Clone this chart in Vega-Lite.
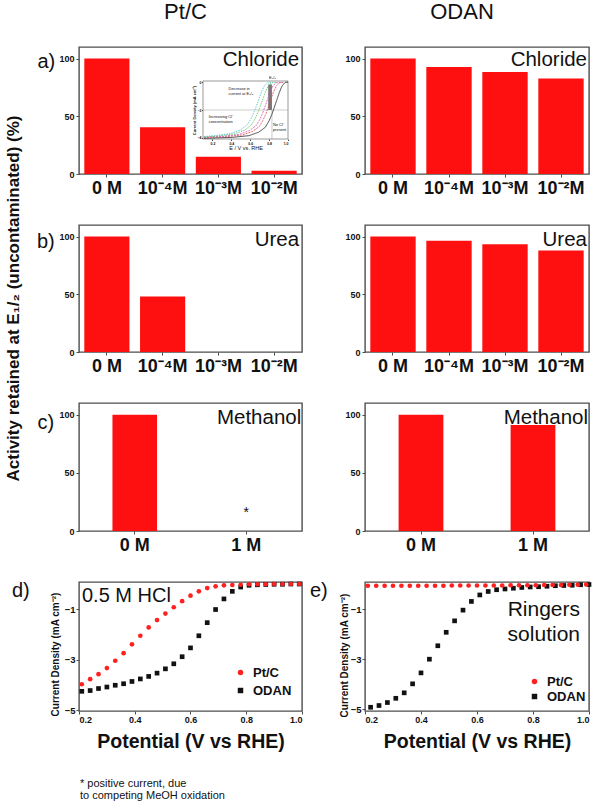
{
 "$schema": "https://vega.github.io/schema/vega-lite/v6.json",
 "background": "white",
 "padding": {"left": 3, "top": 0, "right": 0, "bottom": 0},
 "autosize": {"type": "pad"},
 "title": {"text": ["* positive current, due", "to competing MeOH oxidation"], "orient": "bottom", "anchor": "start", "frame": "group", "fontSize": 11, "fontWeight": "normal", "baseline": "alphabetic", "lineHeight": 12, "offset": 36, "dx": 1},
 "columns": 2,
 "spacing": {"row": 51, "column": 63},
 "bounds": "flush",
 "resolve": {"scale": {"color": "independent", "shape": "independent"}, "legend": {"color": "independent", "shape": "independent"}},
 "datasets": {
  "chlorPt": [{"conc": "0 M", "pct": 100}, {"conc": "10⁻⁴M", "pct": 40.5}, {"conc": "10⁻³M", "pct": 15}, {"conc": "10⁻²M", "pct": 2.8}],
  "chlorOD": [{"conc": "0 M", "pct": 100}, {"conc": "10⁻⁴M", "pct": 92.7}, {"conc": "10⁻³M", "pct": 88.4}, {"conc": "10⁻²M", "pct": 82.7}],
  "ureaPt": [{"conc": "0 M", "pct": 100}, {"conc": "10⁻⁴M", "pct": 48}, {"conc": "10⁻³M", "pct": 0}, {"conc": "10⁻²M", "pct": 0}],
  "ureaOD": [{"conc": "0 M", "pct": 100}, {"conc": "10⁻⁴M", "pct": 96.3}, {"conc": "10⁻³M", "pct": 93.4}, {"conc": "10⁻²M", "pct": 87.9}],
  "methPt": [{"conc": "0 M", "pct": 100}, {"conc": "1 M", "pct": 0}],
  "methOD": [{"conc": "0 M", "pct": 100}, {"conc": "1 M", "pct": 91}],
  "inset": [
   {"series": "no", "E": 0.11, "j": -4.05}, {"series": "no", "E": 0.41, "j": -3.98}, {"series": "no", "E": 0.585, "j": -3.86}, {"series": "no", "E": 0.69, "j": -3.61}, {"series": "no", "E": 0.76, "j": -3.25}, {"series": "no", "E": 0.8, "j": -2.78}, {"series": "no", "E": 0.83, "j": -2.3}, {"series": "no", "E": 0.855, "j": -1.81}, {"series": "no", "E": 0.884, "j": -1.22}, {"series": "no", "E": 0.908, "j": -0.73}, {"series": "no", "E": 0.937, "j": -0.26}, {"series": "no", "E": 0.97, "j": 0.0}, {"series": "no", "E": 1.0, "j": 0.02},
   {"series": "c1", "E": 0.11, "j": -4.0}, {"series": "c1", "E": 0.35, "j": -3.93}, {"series": "c1", "E": 0.52, "j": -3.8}, {"series": "c1", "E": 0.625, "j": -3.55}, {"series": "c1", "E": 0.695, "j": -3.2}, {"series": "c1", "E": 0.735, "j": -2.75}, {"series": "c1", "E": 0.765, "j": -2.3}, {"series": "c1", "E": 0.79, "j": -1.8}, {"series": "c1", "E": 0.82, "j": -1.2}, {"series": "c1", "E": 0.845, "j": -0.72}, {"series": "c1", "E": 0.875, "j": -0.28}, {"series": "c1", "E": 0.91, "j": -0.03}, {"series": "c1", "E": 0.96, "j": 0.0},
   {"series": "c2", "E": 0.11, "j": -3.98}, {"series": "c2", "E": 0.31, "j": -3.9}, {"series": "c2", "E": 0.485, "j": -3.76}, {"series": "c2", "E": 0.59, "j": -3.5}, {"series": "c2", "E": 0.66, "j": -3.15}, {"series": "c2", "E": 0.7, "j": -2.7}, {"series": "c2", "E": 0.73, "j": -2.25}, {"series": "c2", "E": 0.755, "j": -1.78}, {"series": "c2", "E": 0.785, "j": -1.2}, {"series": "c2", "E": 0.81, "j": -0.7}, {"series": "c2", "E": 0.84, "j": -0.27}, {"series": "c2", "E": 0.875, "j": -0.03}, {"series": "c2", "E": 0.93, "j": 0.0},
   {"series": "c3", "E": 0.11, "j": -3.95}, {"series": "c3", "E": 0.26, "j": -3.88}, {"series": "c3", "E": 0.435, "j": -3.72}, {"series": "c3", "E": 0.54, "j": -3.46}, {"series": "c3", "E": 0.61, "j": -3.1}, {"series": "c3", "E": 0.65, "j": -2.65}, {"series": "c3", "E": 0.68, "j": -2.2}, {"series": "c3", "E": 0.705, "j": -1.75}, {"series": "c3", "E": 0.735, "j": -1.18}, {"series": "c3", "E": 0.76, "j": -0.7}, {"series": "c3", "E": 0.79, "j": -0.26}, {"series": "c3", "E": 0.825, "j": -0.03}, {"series": "c3", "E": 0.88, "j": 0.0},
   {"series": "c4", "E": 0.11, "j": -3.92}, {"series": "c4", "E": 0.22, "j": -3.86}, {"series": "c4", "E": 0.395, "j": -3.7}, {"series": "c4", "E": 0.5, "j": -3.43}, {"series": "c4", "E": 0.57, "j": -3.06}, {"series": "c4", "E": 0.61, "j": -2.6}, {"series": "c4", "E": 0.64, "j": -2.15}, {"series": "c4", "E": 0.665, "j": -1.72}, {"series": "c4", "E": 0.695, "j": -1.15}, {"series": "c4", "E": 0.72, "j": -0.68}, {"series": "c4", "E": 0.75, "j": -0.25}, {"series": "c4", "E": 0.785, "j": -0.03}, {"series": "c4", "E": 0.84, "j": 0.0}
  ],
  "hcl": [
   {"material": "ODAN", "E": 0.21, "j": -4.25}, {"material": "ODAN", "E": 0.24, "j": -4.22}, {"material": "ODAN", "E": 0.27, "j": -4.14}, {"material": "ODAN", "E": 0.3, "j": -4.08}, {"material": "ODAN", "E": 0.33, "j": -4.01}, {"material": "ODAN", "E": 0.36, "j": -3.95}, {"material": "ODAN", "E": 0.39, "j": -3.86}, {"material": "ODAN", "E": 0.42, "j": -3.76}, {"material": "ODAN", "E": 0.45, "j": -3.66}, {"material": "ODAN", "E": 0.48, "j": -3.53}, {"material": "ODAN", "E": 0.51, "j": -3.36}, {"material": "ODAN", "E": 0.54, "j": -3.16}, {"material": "ODAN", "E": 0.57, "j": -2.88}, {"material": "ODAN", "E": 0.6, "j": -2.53}, {"material": "ODAN", "E": 0.63, "j": -2.05}, {"material": "ODAN", "E": 0.66, "j": -1.53}, {"material": "ODAN", "E": 0.69, "j": -1.01}, {"material": "ODAN", "E": 0.72, "j": -0.59}, {"material": "ODAN", "E": 0.75, "j": -0.29}, {"material": "ODAN", "E": 0.78, "j": -0.12}, {"material": "ODAN", "E": 0.81, "j": -0.05}, {"material": "ODAN", "E": 0.84, "j": -0.03}, {"material": "ODAN", "E": 0.87, "j": -0.02}, {"material": "ODAN", "E": 0.9, "j": -0.01}, {"material": "ODAN", "E": 0.93, "j": -0.01}, {"material": "ODAN", "E": 0.96, "j": 0}, {"material": "ODAN", "E": 0.99, "j": 0},
   {"material": "Pt/C", "E": 0.21, "j": -3.97}, {"material": "Pt/C", "E": 0.24, "j": -3.77}, {"material": "Pt/C", "E": 0.27, "j": -3.57}, {"material": "Pt/C", "E": 0.3, "j": -3.33}, {"material": "Pt/C", "E": 0.33, "j": -3.04}, {"material": "Pt/C", "E": 0.36, "j": -2.74}, {"material": "Pt/C", "E": 0.39, "j": -2.39}, {"material": "Pt/C", "E": 0.42, "j": -2.05}, {"material": "Pt/C", "E": 0.45, "j": -1.72}, {"material": "Pt/C", "E": 0.48, "j": -1.43}, {"material": "Pt/C", "E": 0.51, "j": -1.17}, {"material": "Pt/C", "E": 0.54, "j": -0.92}, {"material": "Pt/C", "E": 0.57, "j": -0.68}, {"material": "Pt/C", "E": 0.6, "j": -0.46}, {"material": "Pt/C", "E": 0.63, "j": -0.29}, {"material": "Pt/C", "E": 0.66, "j": -0.16}, {"material": "Pt/C", "E": 0.69, "j": -0.09}, {"material": "Pt/C", "E": 0.72, "j": -0.05}, {"material": "Pt/C", "E": 0.75, "j": -0.04}, {"material": "Pt/C", "E": 0.78, "j": -0.03}, {"material": "Pt/C", "E": 0.81, "j": -0.01}, {"material": "Pt/C", "E": 0.84, "j": -0.01}, {"material": "Pt/C", "E": 0.87, "j": -0.01}, {"material": "Pt/C", "E": 0.9, "j": 0}, {"material": "Pt/C", "E": 0.93, "j": 0}, {"material": "Pt/C", "E": 0.96, "j": 0}, {"material": "Pt/C", "E": 0.99, "j": 0}
  ],
  "ringer": [
   {"material": "ODAN", "E": 0.22, "j": -4.93}, {"material": "ODAN", "E": 0.25, "j": -4.86}, {"material": "ODAN", "E": 0.28, "j": -4.74}, {"material": "ODAN", "E": 0.31, "j": -4.57}, {"material": "ODAN", "E": 0.34, "j": -4.35}, {"material": "ODAN", "E": 0.37, "j": -3.99}, {"material": "ODAN", "E": 0.4, "j": -3.55}, {"material": "ODAN", "E": 0.43, "j": -3.0}, {"material": "ODAN", "E": 0.46, "j": -2.46}, {"material": "ODAN", "E": 0.49, "j": -1.92}, {"material": "ODAN", "E": 0.52, "j": -1.46}, {"material": "ODAN", "E": 0.55, "j": -1.03}, {"material": "ODAN", "E": 0.58, "j": -0.68}, {"material": "ODAN", "E": 0.61, "j": -0.42}, {"material": "ODAN", "E": 0.64, "j": -0.28}, {"material": "ODAN", "E": 0.67, "j": -0.21}, {"material": "ODAN", "E": 0.7, "j": -0.18}, {"material": "ODAN", "E": 0.73, "j": -0.15}, {"material": "ODAN", "E": 0.76, "j": -0.12}, {"material": "ODAN", "E": 0.79, "j": -0.1}, {"material": "ODAN", "E": 0.82, "j": -0.09}, {"material": "ODAN", "E": 0.85, "j": -0.07}, {"material": "ODAN", "E": 0.88, "j": -0.05}, {"material": "ODAN", "E": 0.91, "j": -0.04}, {"material": "ODAN", "E": 0.94, "j": -0.03}, {"material": "ODAN", "E": 0.97, "j": -0.01}, {"material": "ODAN", "E": 1.0, "j": 0},
   {"material": "Pt/C", "E": 0.21, "j": -0.05}, {"material": "Pt/C", "E": 0.24, "j": -0.05}, {"material": "Pt/C", "E": 0.27, "j": -0.05}, {"material": "Pt/C", "E": 0.3, "j": -0.05}, {"material": "Pt/C", "E": 0.33, "j": -0.05}, {"material": "Pt/C", "E": 0.36, "j": -0.05}, {"material": "Pt/C", "E": 0.39, "j": -0.05}, {"material": "Pt/C", "E": 0.42, "j": -0.05}, {"material": "Pt/C", "E": 0.45, "j": -0.05}, {"material": "Pt/C", "E": 0.48, "j": -0.05}, {"material": "Pt/C", "E": 0.51, "j": -0.04}, {"material": "Pt/C", "E": 0.54, "j": -0.04}, {"material": "Pt/C", "E": 0.57, "j": -0.04}, {"material": "Pt/C", "E": 0.6, "j": -0.04}, {"material": "Pt/C", "E": 0.63, "j": -0.04}, {"material": "Pt/C", "E": 0.66, "j": -0.04}, {"material": "Pt/C", "E": 0.69, "j": -0.04}, {"material": "Pt/C", "E": 0.72, "j": -0.03}, {"material": "Pt/C", "E": 0.75, "j": -0.03}, {"material": "Pt/C", "E": 0.78, "j": -0.03}, {"material": "Pt/C", "E": 0.81, "j": -0.03}, {"material": "Pt/C", "E": 0.84, "j": -0.02}, {"material": "Pt/C", "E": 0.87, "j": -0.02}, {"material": "Pt/C", "E": 0.9, "j": -0.02}, {"material": "Pt/C", "E": 0.93, "j": -0.01}, {"material": "Pt/C", "E": 0.96, "j": -0.01}, {"material": "Pt/C", "E": 0.99, "j": 0}
  ]
 },
 "concat": [
  {
   "width": 223, "height": 127,
   "title": {"text": "Pt/C", "orient": "top", "anchor": "middle", "frame": "group", "fontSize": 22, "fontWeight": "normal", "baseline": "alphabetic", "offset": 6, "dx": -5},
   "layer": [
    {"layer": [
     {"data": {"name": "chlorPt"}, "mark": {"type": "bar", "color": "#ff1010"},
      "encoding": {
       "x": {"field": "conc", "type": "nominal", "sort": null, "scale": {"domain": ["0 M", "10⁻⁴M", "10⁻³M", "10⁻²M"], "paddingInner": 0.19, "paddingOuter": 0.095}, "axis": {"title": null, "labelAngle": 0, "labelFontSize": 18, "labelFontWeight": "bold", "tickSize": 3, "labelPadding": 2}},
       "y": {"field": "pct", "type": "quantitative", "scale": {"domain": [0, 110], "nice": false}, "axis": {"values": [0, 50, 100], "labelFontSize": 9, "labelFontWeight": "bold", "tickSize": 3, "labelPadding": 2, "title": "a)", "titleAngle": 0, "titleX": -42, "titleY": 20, "titleAlign": "left", "titleBaseline": "alphabetic", "titleFontSize": 20, "titleFontWeight": "normal"}}
      }},
     {"data": {"values": [{"label": "Chloride"}]}, "mark": {"type": "text", "align": "right", "baseline": "alphabetic", "fontSize": 20.5, "dx": 25, "dy": 19}, "encoding": {"x": {"datum": "10⁻²M"}, "y": {"datum": 110}, "text": {"field": "label"}}}
    ]},
    {"layer": [
     {"data": {"values": [{}]}, "mark": {"type": "rect", "fill": "white", "stroke": "#555", "strokeWidth": 0.6},
      "encoding": {
       "x": {"datum": 0.1, "type": "quantitative", "scale": {"domain": [0.1, 1.0], "range": [124, 209], "nice": false, "zero": false}, "axis": {"orient": "bottom", "offset": -35, "values": [0.2, 0.4, 0.6, 0.8, 1.0], "format": ".1f", "labelFontSize": 3.5, "labelFontWeight": "bold", "tickSize": 1.5, "labelPadding": 0.5, "title": "E / V vs. RHE", "titleFontSize": 5.5, "titleFontWeight": "normal", "titlePadding": 0.5}},
       "x2": {"datum": 1.0},
       "y": {"datum": 0.1, "type": "quantitative", "scale": {"domain": [-4.1, 0.1], "range": [92, 34], "nice": false, "zero": false}, "axis": {"orient": "left", "offset": -124, "values": [0, -1, -2, -3, -4], "format": "d", "labelOverlap": false, "labelFontSize": 3.5, "labelFontWeight": "bold", "tickSize": 1.5, "labelPadding": 0.5, "title": "Current Density (mA cm⁻²)", "titleFontSize": 4, "titleFontWeight": "bold", "titlePadding": 1}},
       "y2": {"datum": -4.1}
      }},
     {"data": {"values": [{}]}, "mark": {"type": "rect", "fill": "#777"}, "encoding": {"x": {"datum": 0.79}, "x2": {"datum": 0.83}, "y": {"datum": -0.15}, "y2": {"datum": -2.0}}},
     {"data": {"values": [{}]}, "mark": {"type": "rule", "stroke": "#999", "strokeWidth": 0.5}, "encoding": {"x": {"datum": 0.1}, "x2": {"datum": 1.0}, "y": {"datum": -2.0}}},
     {"data": {"values": [{}]}, "mark": {"type": "rule", "stroke": "#999", "strokeWidth": 0.5}, "encoding": {"x": {"datum": 0.83}, "y": {"datum": -2.0}, "y2": {"datum": -4.1}}},
     {"data": {"name": "inset"}, "mark": {"type": "line", "strokeWidth": 0.8},
      "encoding": {
       "x": {"field": "E", "type": "quantitative"},
       "y": {"field": "j", "type": "quantitative"},
       "color": {"field": "series", "type": "nominal", "scale": {"domain": ["no", "c1", "c2", "c3", "c4"], "range": ["#222222", "#e04848", "#d050b8", "#58c058", "#48c0c8"]}, "legend": null},
       "strokeDash": {"field": "series", "type": "nominal", "scale": {"domain": ["no", "c1", "c2", "c3", "c4"], "range": [[1, 0], [2, 1], [2, 1], [1.5, 1], [1.5, 1]]}, "legend": null}
      }},
     {"data": {"values": [{"label": ["Decrease in", "current at E₁/₂"]}]}, "mark": {"type": "text", "fontSize": 4, "align": "left", "baseline": "alphabetic", "lineHeight": 4.8}, "encoding": {"x": {"datum": 0.37}, "y": {"datum": -0.55}, "text": {"field": "label"}}},
     {"data": {"values": [{"label": ["Increasing Cl⁻", "concentration"]}]}, "mark": {"type": "text", "fontSize": 4, "align": "left", "baseline": "alphabetic", "lineHeight": 4.8}, "encoding": {"x": {"datum": 0.16}, "y": {"datum": -2.6}, "text": {"field": "label"}}},
     {"data": {"values": [{"label": ["No Cl⁻", "present"]}]}, "mark": {"type": "text", "fontSize": 4, "align": "left", "baseline": "alphabetic", "lineHeight": 4.8}, "encoding": {"x": {"datum": 0.84}, "y": {"datum": -3.15}, "text": {"field": "label"}}},
     {"data": {"values": [{"label": "E₁/₂"}]}, "mark": {"type": "text", "fontSize": 4, "align": "left", "baseline": "alphabetic"}, "encoding": {"x": {"datum": 0.8}, "y": {"datum": 0.25}, "text": {"field": "label"}}}
    ]}
   ],
   "resolve": {"scale": {"x": "independent", "y": "independent"}, "axis": {"x": "independent", "y": "independent"}}
  },
  {
   "width": 224, "height": 127,
   "title": {"text": "ODAN", "orient": "top", "anchor": "middle", "frame": "group", "fontSize": 22, "fontWeight": "normal", "baseline": "alphabetic", "offset": 6, "dx": -15},
   "layer": [
    {"data": {"name": "chlorOD"}, "mark": {"type": "bar", "color": "#ff1010"},
     "encoding": {
      "x": {"field": "conc", "type": "nominal", "sort": null, "scale": {"domain": ["0 M", "10⁻⁴M", "10⁻³M", "10⁻²M"], "paddingInner": 0.19, "paddingOuter": 0.095}, "axis": {"title": null, "labelAngle": 0, "labelFontSize": 18, "labelFontWeight": "bold", "tickSize": 3, "labelPadding": 2}},
      "y": {"field": "pct", "type": "quantitative", "scale": {"domain": [0, 110], "nice": false}, "axis": {"values": [0, 50, 100], "labelFontSize": 9, "labelFontWeight": "bold", "tickSize": 3, "labelPadding": 2, "title": null}}
     }},
    {"data": {"values": [{"label": "Chloride"}]}, "mark": {"type": "text", "align": "right", "baseline": "alphabetic", "fontSize": 20.5, "dx": 26, "dy": 19}, "encoding": {"x": {"datum": "10⁻²M"}, "y": {"datum": 110}, "text": {"field": "label"}}}
   ]
  },
  {
   "width": 223, "height": 127,
   "layer": [
    {"data": {"name": "ureaPt"}, "mark": {"type": "bar", "color": "#ff1010"},
     "encoding": {
      "x": {"field": "conc", "type": "nominal", "sort": null, "scale": {"domain": ["0 M", "10⁻⁴M", "10⁻³M", "10⁻²M"], "paddingInner": 0.19, "paddingOuter": 0.095}, "axis": {"title": null, "labelAngle": 0, "labelFontSize": 18, "labelFontWeight": "bold", "tickSize": 3, "labelPadding": 2}},
      "y": {"field": "pct", "type": "quantitative", "scale": {"domain": [0, 110], "nice": false}, "axis": {"values": [0, 50, 100], "labelFontSize": 9, "labelFontWeight": "bold", "tickSize": 3, "labelPadding": 2, "title": "Activity retained at E₁/₂ (uncontaminated) (%)", "titleX": -57, "titleY": 73, "titleAngle": -90, "titleAlign": "center", "titleBaseline": "bottom", "titleFontSize": 17, "titleFontWeight": "bold"}}
     }},
    {"data": {"values": [{"label": "Urea"}]}, "mark": {"type": "text", "align": "right", "baseline": "alphabetic", "fontSize": 20.5, "dx": 25, "dy": 21}, "encoding": {"x": {"datum": "10⁻²M"}, "y": {"datum": 110}, "text": {"field": "label"}}},
    {"data": {"values": [{"label": "b)"}]}, "mark": {"type": "text", "align": "left", "baseline": "alphabetic", "fontSize": 20, "dx": -70, "dy": 23}, "encoding": {"x": {"datum": "0 M"}, "y": {"datum": 110}, "text": {"field": "label"}}}
   ]
  },
  {
   "width": 224, "height": 127,
   "layer": [
    {"data": {"name": "ureaOD"}, "mark": {"type": "bar", "color": "#ff1010"},
     "encoding": {
      "x": {"field": "conc", "type": "nominal", "sort": null, "scale": {"domain": ["0 M", "10⁻⁴M", "10⁻³M", "10⁻²M"], "paddingInner": 0.19, "paddingOuter": 0.095}, "axis": {"title": null, "labelAngle": 0, "labelFontSize": 18, "labelFontWeight": "bold", "tickSize": 3, "labelPadding": 2}},
      "y": {"field": "pct", "type": "quantitative", "scale": {"domain": [0, 110], "nice": false}, "axis": {"values": [0, 50, 100], "labelFontSize": 9, "labelFontWeight": "bold", "tickSize": 3, "labelPadding": 2, "title": null}}
     }},
    {"data": {"values": [{"label": "Urea"}]}, "mark": {"type": "text", "align": "right", "baseline": "alphabetic", "fontSize": 20.5, "dx": 26, "dy": 21}, "encoding": {"x": {"datum": "10⁻²M"}, "y": {"datum": 110}, "text": {"field": "label"}}}
   ]
  },
  {
   "width": 223, "height": 128,
   "layer": [
    {"data": {"name": "methPt"}, "mark": {"type": "bar", "color": "#ff1010"},
     "encoding": {
      "x": {"field": "conc", "type": "nominal", "sort": null, "scale": {"domain": ["0 M", "1 M"], "paddingInner": 0.6, "paddingOuter": 0.3}, "axis": {"title": null, "labelAngle": 0, "labelFontSize": 18, "labelFontWeight": "bold", "tickSize": 3, "labelPadding": 2}},
      "y": {"field": "pct", "type": "quantitative", "scale": {"domain": [0, 110], "nice": false}, "axis": {"values": [0, 50, 100], "labelFontSize": 9, "labelFontWeight": "bold", "tickSize": 3, "labelPadding": 2, "title": "c)", "titleAngle": 0, "titleX": -42, "titleY": 25, "titleAlign": "left", "titleBaseline": "alphabetic", "titleFontSize": 20, "titleFontWeight": "normal"}}
     }},
    {"data": {"values": [{"conc": "1 M", "note": "*", "at": 12}]}, "mark": {"type": "text", "align": "center", "baseline": "alphabetic", "fontSize": 14}, "encoding": {"x": {"field": "conc", "type": "nominal"}, "y": {"field": "at", "type": "quantitative"}, "text": {"field": "note"}}},
    {"data": {"values": [{"label": "Methanol"}]}, "mark": {"type": "text", "align": "right", "baseline": "alphabetic", "fontSize": 20.5, "dx": 55, "dy": 21}, "encoding": {"x": {"datum": "1 M"}, "y": {"datum": 110}, "text": {"field": "label"}}}
   ]
  },
  {
   "width": 224, "height": 128,
   "layer": [
    {"data": {"name": "methOD"}, "mark": {"type": "bar", "color": "#ff1010"},
     "encoding": {
      "x": {"field": "conc", "type": "nominal", "sort": null, "scale": {"domain": ["0 M", "1 M"], "paddingInner": 0.6, "paddingOuter": 0.3}, "axis": {"title": null, "labelAngle": 0, "labelFontSize": 18, "labelFontWeight": "bold", "tickSize": 3, "labelPadding": 2}},
      "y": {"field": "pct", "type": "quantitative", "scale": {"domain": [0, 110], "nice": false}, "axis": {"values": [0, 50, 100], "labelFontSize": 9, "labelFontWeight": "bold", "tickSize": 3, "labelPadding": 2, "title": null}}
     }},
    {"data": {"values": [{"label": "Methanol"}]}, "mark": {"type": "text", "align": "right", "baseline": "alphabetic", "fontSize": 20.5, "dx": 55, "dy": 21}, "encoding": {"x": {"datum": "1 M"}, "y": {"datum": 110}, "text": {"field": "label"}}}
   ]
  },
  {
   "width": 223, "height": 129,
   "title": {"text": "d)", "orient": "top", "anchor": "start", "frame": "group", "fontSize": 20, "fontWeight": "normal", "baseline": "alphabetic", "offset": -35, "dx": -67},
   "layer": [
    {"data": {"name": "hcl"}, "mark": {"type": "point", "filled": true, "size": 22, "opacity": 1},
     "encoding": {
      "x": {"field": "E", "type": "quantitative", "scale": {"domain": [0.2, 1.0], "nice": false, "zero": false}, "axis": {"values": [0.2, 0.4, 0.6, 0.8, 1.0], "format": ".1f", "labelFontSize": 9, "labelFontWeight": "bold", "tickSize": 3, "labelPadding": 1, "title": "Potential (V vs RHE)", "titleFontSize": 19.5, "titleFontWeight": "bold", "titlePadding": 8}},
      "y": {"field": "j", "type": "quantitative", "scale": {"domain": [-5.03, 0.08], "nice": false, "zero": false}, "axis": {"values": [0, -1, -2, -3, -4, -5], "format": "d", "labelOverlap": false, "labelFontSize": 9.5, "labelFontWeight": "bold", "tickSize": 3, "labelPadding": 1, "title": "Current Density (mA cm⁻²)", "titleFontSize": 10, "titleFontWeight": "bold", "titleX": -19, "titleY": 72}},
      "color": {"field": "material", "type": "nominal", "scale": {"domain": ["Pt/C", "ODAN"], "range": ["#ff2020", "#111111"]}, "legend": {"orient": "none", "legendX": 155, "legendY": 84, "title": null, "labelFontSize": 13, "labelFontWeight": "bold", "symbolSize": 30, "rowPadding": 4, "padding": 0, "labelOffset": 6}},
      "shape": {"field": "material", "type": "nominal", "scale": {"domain": ["Pt/C", "ODAN"], "range": ["circle", "square"]}, "legend": {"orient": "none", "legendX": 155, "legendY": 84, "title": null, "labelFontSize": 13, "labelFontWeight": "bold", "symbolSize": 30, "rowPadding": 4, "padding": 0, "labelOffset": 6}}
     }},
    {"data": {"values": [{"label": "0.5 M HCl"}]}, "mark": {"type": "text", "align": "left", "baseline": "alphabetic", "fontSize": 20, "dx": 3, "dy": 18}, "encoding": {"x": {"datum": 0.2}, "y": {"datum": 0}, "text": {"field": "label"}}}
   ]
  },
  {
   "width": 224, "height": 129,
   "title": {"text": "e)", "orient": "top", "anchor": "start", "frame": "group", "fontSize": 20, "fontWeight": "normal", "baseline": "alphabetic", "offset": -35, "dx": -55},
   "layer": [
    {"data": {"name": "ringer"}, "mark": {"type": "point", "filled": true, "size": 22, "opacity": 1},
     "encoding": {
      "x": {"field": "E", "type": "quantitative", "scale": {"domain": [0.2, 1.0], "nice": false, "zero": false}, "axis": {"values": [0.2, 0.4, 0.6, 0.8, 1.0], "format": ".1f", "labelFontSize": 9, "labelFontWeight": "bold", "tickSize": 3, "labelPadding": 1, "title": "Potential (V vs RHE)", "titleFontSize": 19.5, "titleFontWeight": "bold", "titlePadding": 8}},
      "y": {"field": "j", "type": "quantitative", "scale": {"domain": [-5.08, 0.1], "nice": false, "zero": false}, "axis": {"values": [0, -1, -2, -3, -4, -5], "format": "d", "labelOverlap": false, "labelFontSize": 9.5, "labelFontWeight": "bold", "tickSize": 3, "labelPadding": 1, "title": "Current Density (mA cm⁻²)", "titleFontSize": 10, "titleFontWeight": "bold", "titleX": -16, "titleY": 73}},
      "color": {"field": "material", "type": "nominal", "scale": {"domain": ["Pt/C", "ODAN"], "range": ["#ff2020", "#111111"]}, "legend": {"orient": "none", "legendX": 163, "legendY": 93, "title": null, "labelFontSize": 13, "labelFontWeight": "bold", "symbolSize": 30, "rowPadding": 1, "padding": 0, "labelOffset": 6}},
      "shape": {"field": "material", "type": "nominal", "scale": {"domain": ["Pt/C", "ODAN"], "range": ["circle", "square"]}, "legend": {"orient": "none", "legendX": 163, "legendY": 93, "title": null, "labelFontSize": 13, "labelFontWeight": "bold", "symbolSize": 30, "rowPadding": 1, "padding": 0, "labelOffset": 6}}
     }},
    {"data": {"values": [{"label": ["Ringers", "solution"]}]}, "mark": {"type": "text", "align": "right", "baseline": "alphabetic", "fontSize": 21, "lineHeight": 25, "dx": -9, "dy": 32}, "encoding": {"x": {"datum": 1.0}, "y": {"datum": 0}, "text": {"field": "label"}}}
   ]
  }
 ],
 "config": {
  "font": "Liberation Sans",
  "view": {"stroke": "#4d4d4d", "strokeWidth": 1.4},
  "axis": {"grid": false, "domain": false, "tickColor": "#4d4d4d", "labelColor": "#111111", "titleColor": "#111111", "labelFont": "Liberation Sans", "titleFont": "Liberation Sans"},
  "title": {"color": "#111111", "font": "Liberation Sans"},
  "text": {"color": "#111111", "font": "Liberation Sans"},
  "legend": {"labelFont": "Liberation Sans", "labelColor": "#111111"}
 }
}
